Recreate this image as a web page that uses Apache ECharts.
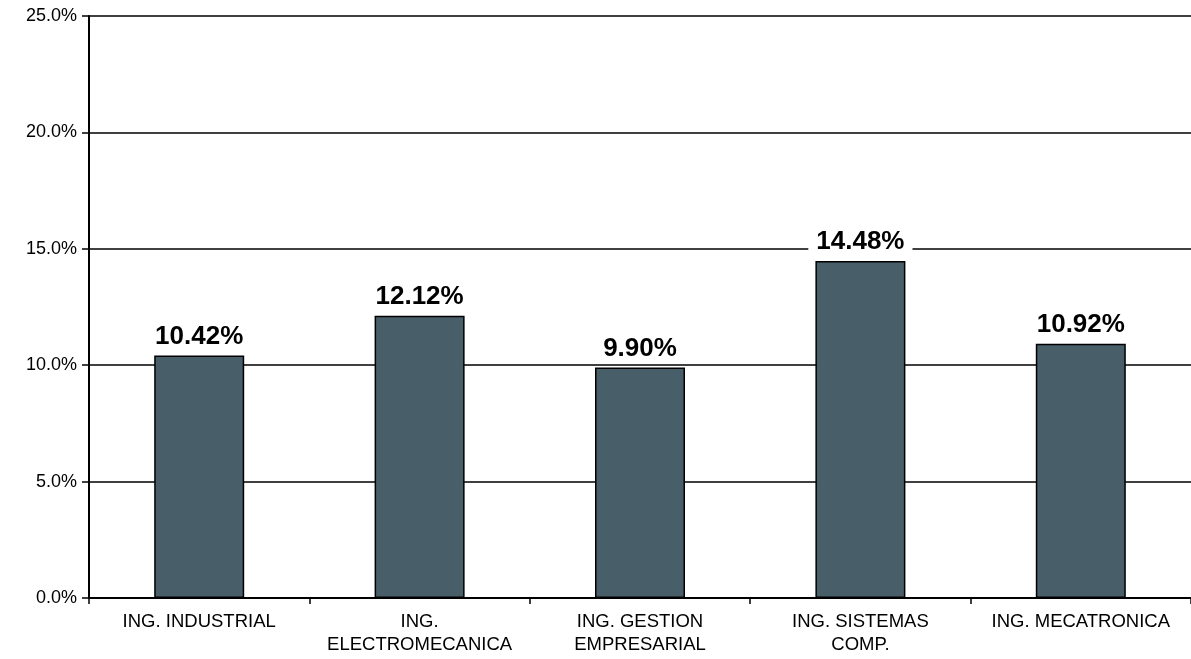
<!DOCTYPE html>
<html><head><meta charset="utf-8">
<script src="https://cdn.jsdelivr.net/npm/echarts@6/dist/echarts.min.js"></script>
<style>html,body{margin:0;padding:0;background:#fff}#c{width:1191px;height:659px}</style>
</head><body><div id="c"></div>
<script>
const categories = ['ING. INDUSTRIAL', 'ING.\nELECTROMECANICA', 'ING. GESTION\nEMPRESARIAL', 'ING. SISTEMAS\nCOMP.', 'ING. MECATRONICA'];
const values = [10.42, 12.12, 9.90, 14.48, 10.92];
const chart = echarts.init(document.getElementById('c'));
chart.setOption({
  animation: false,
  grid: { left: 89, right: 0, top: 16, bottom: 61, containLabel: false },
  xAxis: {
    type: 'category', data: categories,
    axisLine: { lineStyle: { color: '#000', width: 2 } },
    axisTick: { show: true, length: 6, interval: 0, lineStyle: { color: '#000', width: 1.5 } },
    axisLabel: { interval: 0, hideOverlap: false, color: '#000', fontFamily: 'Liberation Sans, Arial', fontSize: 18.5, lineHeight: 23, margin: 12 }
  },
  yAxis: {
    type: 'value', min: 0, max: 25, interval: 5,
    axisLine: { show: true, lineStyle: { color: '#000', width: 2 } },
    axisTick: { show: true, length: 7, lineStyle: { color: '#000', width: 1.5 } },
    splitLine: { lineStyle: { color: '#000', width: 1.5 } },
    axisLabel: { color: '#000', fontFamily: 'Liberation Sans, Arial', fontSize: 18, margin: 12,
      formatter: v => v.toFixed(1) + '%' }
  },
  series: [{
    type: 'bar', data: values, barWidth: 90,
    itemStyle: { color: '#485E68', borderColor: '#000', borderWidth: 1.5 },
    label: { show: true, position: 'top', distance: 6, color: '#000', fontFamily: 'Liberation Sans, Arial',
      fontSize: 26, fontWeight: 'bold', backgroundColor: '#fff', padding: [0, 8],
      formatter: p => p.value.toFixed(2) + '%' }
  }]
});
</script></body></html>
